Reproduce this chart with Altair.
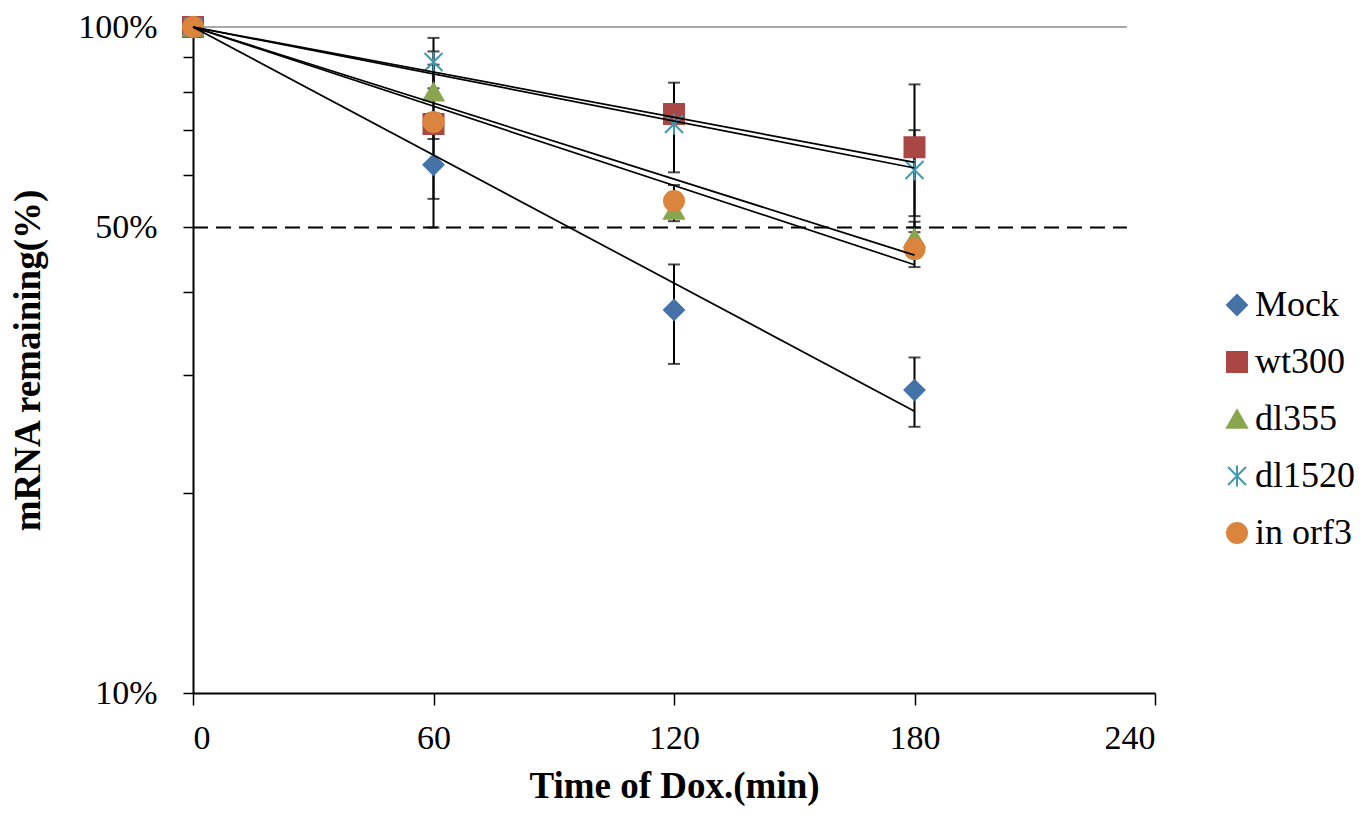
import numpy as np
import pandas as pd
import altair as alt

# ---- data ----
series = ["Mock", "wt300", "dl355", "dl1520", "in orf3"]
times = [0, 60, 120, 180]

mock = [100, 62.1, 37.6, 28.5]
wt300 = [100, 71.5, 74.0, 66.0]
dl355 = [100, 79.9, 53.1, 48.2]
dl1520 = [100, 88.6, 71.5, 61.0]
orf3 = [100, 72.0, 54.8, 46.4]

mock_err = [0, 12.1, 6.4, 3.4]
wt300_err = [0, 16.3, 2.0, 16.0]
dl355_err = [0, 12.0, 2.0, 2.8]
dl1520_err = [0, 7.7, 11.0, 9.0]
orf3_err = [0, 2.0, 3.1, 2.8]

colors = ["#4572A7", "#AA4643", "#89A54E", "#4198AF", "#DB843D"]
star = "M-0.9,-0.9L0.9,0.9M-0.9,0.9L0.9,-0.9M0,-1.05L0,1.05"
shapes = ["diamond", "square", "triangle-up", star, "circle"]

x_ticks = [0, 60, 120, 180, 240]
y_ticks = [10, 20, 30, 40, 50, 60, 70, 80, 90, 100]
ref_x = [0, 233]

values = [mock, wt300, dl355, dl1520, orf3]
errs = [mock_err, wt300_err, dl355_err, dl1520_err, orf3_err]

rows = []
for s, v, e in zip(series, values, errs):
    for t, val, er in zip(times, v, e):
        rows.append({"series": s, "time": t, "value": val, "lo": val - er, "hi": val + er, "err": er})
df = pd.DataFrame(rows)
err_df = df[df["err"] > 0]

# exponential trendlines forced through (0, 100%)
trows = []
t_arr = np.array(times, dtype=float)
for s, v in zip(series, values):
    lv = np.log(np.array(v, dtype=float) / 100.0)
    b = np.sum(t_arr * lv) / np.sum(t_arr ** 2)
    for t in (times[0], times[-1]):
        trows.append({"series": s, "time": t, "value": 100.0 * np.exp(b * t)})
trend_df = pd.DataFrame(trows)

ref_df = pd.DataFrame({"time": ref_x, "top": [100, 100], "half": [50, 50]})

FONT = "Liberation Serif"

xscale = alt.Scale(domain=[0, 240], nice=False, zero=False)
yscale = alt.Scale(type="log", domain=[10, 100], nice=False)

x_axis = alt.Axis(values=x_ticks, tickSize=12, tickColor="black", tickWidth=1.5,
                  domainColor="black", domainWidth=2, grid=False,
                  labelFont=FONT, labelFontSize=34, labelColor="black", labelPadding=16,
                  title="Time of Dox.(min)", titleFont=FONT, titleFontSize=37,
                  titleFontWeight="bold", titleColor="black",
                  titleX=481, titleY=93, titleBaseline="middle", titleAlign="center")
y_axis = alt.Axis(values=y_ticks, tickSize=10, tickColor="black", tickWidth=1.5,
                  domainColor="black", domainWidth=2, grid=False,
                  labelExpr="(datum.value == 10 || datum.value == 50 || datum.value == 100) ? datum.value + '%' : ''",
                  labelFont=FONT, labelFontSize=34, labelColor="black", labelPadding=26,
                  labelBaseline="middle",
                  title="mRNA remaining(%)", titleFont=FONT, titleFontSize=37,
                  titleFontWeight="bold", titleColor="black", titleAngle=270,
                  titleX=-165, titleY=333, titleBaseline="middle", titleAlign="center")

base_x = alt.X("time:Q", scale=xscale, axis=x_axis)

top_line = alt.Chart(ref_df).mark_line(color="#8c8c8c", strokeWidth=1.5).encode(
    x=base_x, y=alt.Y("top:Q", scale=yscale, axis=y_axis))
half_line = alt.Chart(ref_df).mark_line(color="black", strokeWidth=2, strokeDash=[15, 8]).encode(
    x=alt.X("time:Q", scale=xscale), y=alt.Y("half:Q", scale=yscale))

err_rule = alt.Chart(err_df).mark_rule(color="black", strokeWidth=2).encode(
    x=alt.X("time:Q", scale=xscale), y=alt.Y("lo:Q", scale=yscale), y2="hi:Q")
cap_lo = alt.Chart(err_df).mark_tick(orient="horizontal", size=12, thickness=2, color="black").encode(
    x=alt.X("time:Q", scale=xscale), y=alt.Y("lo:Q", scale=yscale))
cap_hi = alt.Chart(err_df).mark_tick(orient="horizontal", size=12, thickness=2, color="black").encode(
    x=alt.X("time:Q", scale=xscale), y=alt.Y("hi:Q", scale=yscale))

legend = alt.Legend(title=None, orient="none", legendX=1026, legendY=260,
                    labelFont=FONT, labelFontSize=36, labelColor="black",
                    symbolSize=400, symbolStrokeWidth=2, rowPadding=21,
                    labelOffset=0, padding=0)

points = alt.Chart(df).mark_point(filled=True, size=400, strokeWidth=2, opacity=1).encode(
    x=alt.X("time:Q", scale=xscale),
    y=alt.Y("value:Q", scale=yscale),
    fill=alt.Fill("series:N", scale=alt.Scale(domain=series, range=colors), legend=legend, sort=series),
    stroke=alt.Stroke("series:N", scale=alt.Scale(domain=series, range=colors), legend=legend, sort=series),
    shape=alt.Shape("series:N", scale=alt.Scale(domain=series, range=shapes), legend=legend, sort=series),
)

trend = alt.Chart(trend_df).mark_line(color="black", strokeWidth=1.7).encode(
    x=alt.X("time:Q", scale=xscale), y=alt.Y("value:Q", scale=yscale), detail="series:N")

chart = alt.layer(top_line, half_line, err_rule, cap_lo, cap_hi, points, trend).properties(
    width=962, height=666,
    autosize=alt.AutoSizeParams(type="none"),
    padding={"left": 185, "top": 19, "right": 200, "bottom": 114},
    background="white",
).configure_view(strokeWidth=0, stroke=None).configure_legend(
    labelFont=FONT, labelFontSize=36, labelColor="black")

chart.save("out.html", embed_options={"renderer": "svg", "actions": False})
